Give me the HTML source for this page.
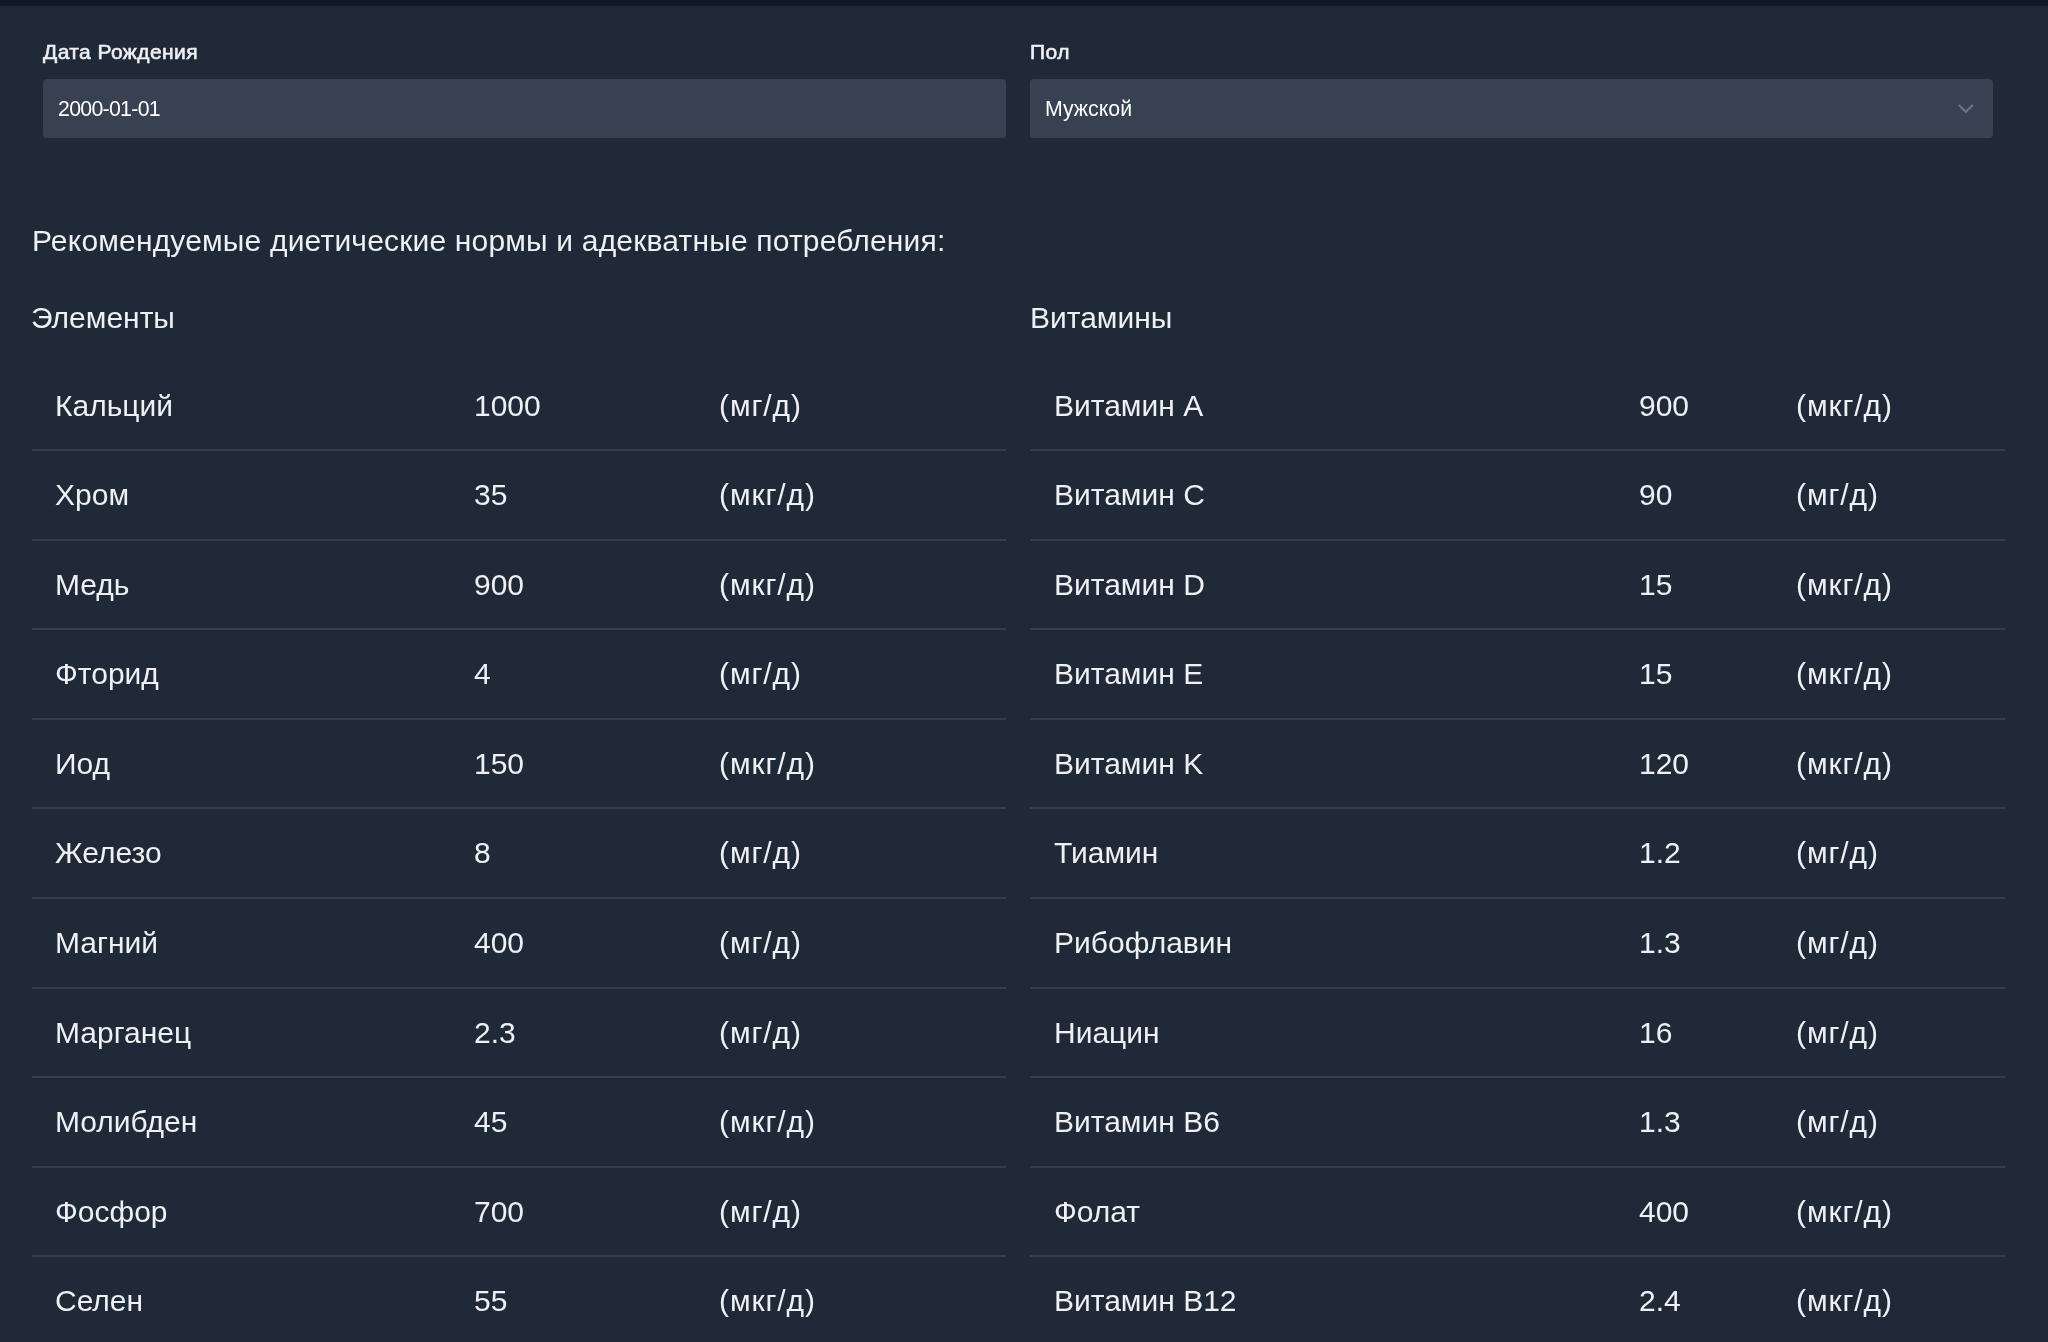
<!DOCTYPE html>
<html><head><meta charset="utf-8">
<style>
html,body{margin:0;padding:0;}
body{width:2048px;height:1342px;background:#1f2937;position:relative;overflow:hidden;font-family:"Liberation Sans",sans-serif;color:#eef0f3;}
.topbar{position:absolute;left:0;top:0;width:2048px;height:6px;background:#111827;}
.lbl{position:absolute;font-size:21px;font-weight:normal;-webkit-text-stroke:0.62px #eef0f3;line-height:21px;color:#eef0f3;white-space:nowrap;letter-spacing:0.42px;}
.inp{position:absolute;top:79px;height:59px;background:#374151;border-radius:4px;}
.itxt{position:absolute;font-size:21.3px;line-height:21px;color:#ffffff;white-space:nowrap;}
.h{position:absolute;font-size:30px;line-height:30px;white-space:nowrap;color:#eef0f3;}
.row{position:absolute;height:89.56px;}
.row span{position:absolute;top:30.2px;font-size:30px;line-height:30px;white-space:nowrap;}
.c1{left:23px} .c2{left:442px} .c3{left:687px}
.d1{left:24px} .d2{left:609px} .d3{left:766px}
.row span.u{letter-spacing:0.9px;}
.line{position:absolute;height:2px;background:#353e4d;}
.gs{position:absolute;left:0;top:0;width:2048px;height:1342px;will-change:transform;}
</style></head><body>
<div class="topbar"></div>
<div class="inp" style="left:43px;width:963px"></div>
<div class="inp" style="left:1030px;width:963px"></div>
<div class="gs">
<div class="lbl" style="left:43px;top:40.8px">Дата Рождения</div>
<div class="lbl" style="left:1030px;top:40.8px">Пол</div>
<div class="itxt" style="left:58px;top:99px;letter-spacing:-0.7px">2000-01-01</div>
<div class="itxt" style="left:1045px;top:99px">Мужской</div>
<svg style="position:absolute;left:0;top:0" width="2048" height="200"><path d="M1959.4 105.5 L1965.8 111.9 L1972.2 105.5" stroke="#6b7280" stroke-width="2.3" stroke-linecap="round" stroke-linejoin="round" fill="none"/></svg>
<div class="h" style="left:32px;top:226px;letter-spacing:0.18px">Рекомендуемые диетические нормы и адекватные потребления:</div>
<div class="h" style="left:31px;top:303px">Элементы</div>
<div class="h" style="left:1030px;top:303px">Витамины</div>
<div class="row" style="top:360.50px;left:32px;width:974px"><span class="c1">Кальций</span><span class="c2">1000</span><span class="c3 u">(мг/д)</span></div><div class="row" style="top:360.50px;left:1030px;width:975px"><span class="d1">Витамин A</span><span class="d2">900</span><span class="d3 u">(мкг/д)</span></div><div class="row" style="top:450.06px;left:32px;width:974px"><span class="c1">Хром</span><span class="c2">35</span><span class="c3 u">(мкг/д)</span></div><div class="row" style="top:450.06px;left:1030px;width:975px"><span class="d1">Витамин C</span><span class="d2">90</span><span class="d3 u">(мг/д)</span></div><div class="row" style="top:539.62px;left:32px;width:974px"><span class="c1">Медь</span><span class="c2">900</span><span class="c3 u">(мкг/д)</span></div><div class="row" style="top:539.62px;left:1030px;width:975px"><span class="d1">Витамин D</span><span class="d2">15</span><span class="d3 u">(мкг/д)</span></div><div class="row" style="top:629.18px;left:32px;width:974px"><span class="c1">Фторид</span><span class="c2">4</span><span class="c3 u">(мг/д)</span></div><div class="row" style="top:629.18px;left:1030px;width:975px"><span class="d1">Витамин E</span><span class="d2">15</span><span class="d3 u">(мкг/д)</span></div><div class="row" style="top:718.74px;left:32px;width:974px"><span class="c1">Иод</span><span class="c2">150</span><span class="c3 u">(мкг/д)</span></div><div class="row" style="top:718.74px;left:1030px;width:975px"><span class="d1">Витамин K</span><span class="d2">120</span><span class="d3 u">(мкг/д)</span></div><div class="row" style="top:808.30px;left:32px;width:974px"><span class="c1">Железо</span><span class="c2">8</span><span class="c3 u">(мг/д)</span></div><div class="row" style="top:808.30px;left:1030px;width:975px"><span class="d1">Тиамин</span><span class="d2">1.2</span><span class="d3 u">(мг/д)</span></div><div class="row" style="top:897.86px;left:32px;width:974px"><span class="c1">Магний</span><span class="c2">400</span><span class="c3 u">(мг/д)</span></div><div class="row" style="top:897.86px;left:1030px;width:975px"><span class="d1">Рибофлавин</span><span class="d2">1.3</span><span class="d3 u">(мг/д)</span></div><div class="row" style="top:987.42px;left:32px;width:974px"><span class="c1">Марганец</span><span class="c2">2.3</span><span class="c3 u">(мг/д)</span></div><div class="row" style="top:987.42px;left:1030px;width:975px"><span class="d1">Ниацин</span><span class="d2">16</span><span class="d3 u">(мг/д)</span></div><div class="row" style="top:1076.98px;left:32px;width:974px"><span class="c1">Молибден</span><span class="c2">45</span><span class="c3 u">(мкг/д)</span></div><div class="row" style="top:1076.98px;left:1030px;width:975px"><span class="d1">Витамин B6</span><span class="d2">1.3</span><span class="d3 u">(мг/д)</span></div><div class="row" style="top:1166.54px;left:32px;width:974px"><span class="c1">Фосфор</span><span class="c2">700</span><span class="c3 u">(мг/д)</span></div><div class="row" style="top:1166.54px;left:1030px;width:975px"><span class="d1">Фолат</span><span class="d2">400</span><span class="d3 u">(мкг/д)</span></div><div class="row" style="top:1256.10px;left:32px;width:974px"><span class="c1">Селен</span><span class="c2">55</span><span class="c3 u">(мкг/д)</span></div><div class="row" style="top:1256.10px;left:1030px;width:975px"><span class="d1">Витамин B12</span><span class="d2">2.4</span><span class="d3 u">(мкг/д)</span></div>
<div class="line" style="left:32px;width:974px;top:449.20px"></div><div class="line" style="left:1030px;width:975px;top:449.20px"></div><div class="line" style="left:32px;width:974px;top:538.76px"></div><div class="line" style="left:1030px;width:975px;top:538.76px"></div><div class="line" style="left:32px;width:974px;top:628.32px"></div><div class="line" style="left:1030px;width:975px;top:628.32px"></div><div class="line" style="left:32px;width:974px;top:717.88px"></div><div class="line" style="left:1030px;width:975px;top:717.88px"></div><div class="line" style="left:32px;width:974px;top:807.44px"></div><div class="line" style="left:1030px;width:975px;top:807.44px"></div><div class="line" style="left:32px;width:974px;top:897.00px"></div><div class="line" style="left:1030px;width:975px;top:897.00px"></div><div class="line" style="left:32px;width:974px;top:986.56px"></div><div class="line" style="left:1030px;width:975px;top:986.56px"></div><div class="line" style="left:32px;width:974px;top:1076.12px"></div><div class="line" style="left:1030px;width:975px;top:1076.12px"></div><div class="line" style="left:32px;width:974px;top:1165.68px"></div><div class="line" style="left:1030px;width:975px;top:1165.68px"></div><div class="line" style="left:32px;width:974px;top:1255.24px"></div><div class="line" style="left:1030px;width:975px;top:1255.24px"></div>
</div>
</body></html>
